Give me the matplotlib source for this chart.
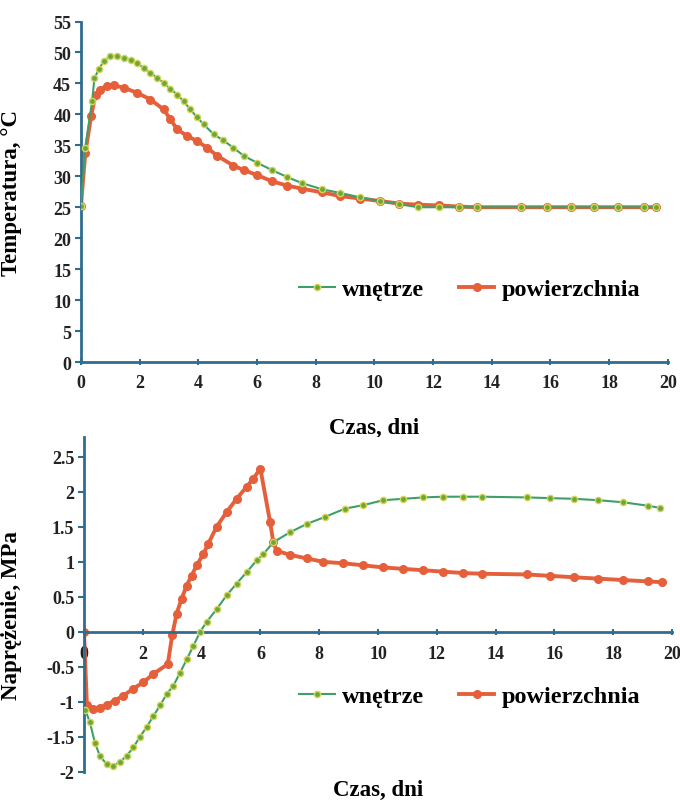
import matplotlib
matplotlib.use('Agg')
import matplotlib.pyplot as plt

# Temperature chart (top)
t_temp_wn = [0, 0.15, 0.38, 0.46, 0.61, 0.78, 1.0, 1.23, 1.46, 1.69, 1.91, 2.14, 2.37, 2.6, 2.82,
             3.05, 3.28, 3.5, 3.73, 3.96, 4.18, 4.52, 4.85, 5.2, 5.55, 6.0, 6.51, 7.02, 7.53, 8.22,
             8.84, 9.52, 10.2, 10.83, 11.5, 12.2, 12.9, 13.5, 15.0, 15.9, 16.7, 17.5, 18.3, 19.2, 19.6]
temp_wn = [25.2, 34.6, 42.1, 45.8, 47.3, 48.6, 49.4, 49.5, 49.1, 48.8, 48.3, 47.5, 46.7, 45.9, 45.1,
           44.1, 43.2, 42.1, 40.8, 39.5, 38.4, 36.8, 35.8, 34.6, 33.3, 32.2, 31.0, 29.9, 28.9, 27.9,
           27.3, 26.6, 26.0, 25.5, 25.0, 25.0, 25.0, 25.0, 25.0, 25.0, 25.0, 25.0, 25.0, 25.0, 25.0]

t_temp_pow = [0, 0.15, 0.35, 0.5, 0.66, 0.89, 1.12, 1.46, 1.91, 2.37, 2.82, 3.05, 3.28, 3.62, 3.96,
              4.3, 4.65, 5.2, 5.55, 6.0, 6.51, 7.02, 7.53, 8.22, 8.84, 9.52, 10.2, 10.83, 11.5, 12.2,
              12.9, 13.5, 15.0, 15.9, 16.7, 17.5, 18.3, 19.2, 19.6]
temp_pow = [25.2, 33.8, 39.8, 43.2, 44.0, 44.6, 44.7, 44.3, 43.5, 42.4, 40.8, 39.2, 37.6, 36.5, 35.7,
            34.6, 33.3, 31.7, 31.0, 30.2, 29.2, 28.5, 28.0, 27.4, 26.8, 26.4, 26.0, 25.6, 25.4, 25.3,
            25.1, 25.0, 25.0, 25.0, 25.0, 25.0, 25.0, 25.0, 25.0]

# Stress chart (bottom)
t_nap_wn = [0.05, 0.2, 0.37, 0.54, 0.77, 1.0, 1.22, 1.45, 1.68, 1.9, 2.13, 2.36, 2.59, 2.81, 3.04,
            3.27, 3.5, 3.72, 3.95, 4.17, 4.52, 4.85, 5.19, 5.53, 5.87, 6.1, 6.44, 7.0, 7.57, 8.19,
            8.88, 9.5, 10.18, 10.86, 11.54, 12.22, 12.9, 13.53, 15.06, 15.85, 16.67, 17.5, 18.35, 19.2, 19.6]
nap_wn = [-1.12, -1.29, -1.58, -1.77, -1.89, -1.91, -1.86, -1.77, -1.65, -1.5, -1.36, -1.2, -1.05, -0.89, -0.77,
          -0.58, -0.39, -0.2, 0.0, 0.14, 0.33, 0.52, 0.69, 0.85, 1.02, 1.11, 1.28, 1.42, 1.54, 1.64,
          1.76, 1.81, 1.88, 1.9, 1.92, 1.93, 1.93, 1.93, 1.92, 1.91, 1.9, 1.88, 1.85, 1.8, 1.77]

t_nap_pow = [0, 0.1, 0.32, 0.54, 0.77, 1.05, 1.34, 1.68, 2.02, 2.36, 2.85, 3.0, 3.15, 3.32, 3.49,
             3.66, 3.83, 4.06, 4.23, 4.51, 4.85, 5.19, 5.53, 5.76, 6.0, 6.33, 6.44, 6.55, 7.0, 7.57,
             8.14, 8.82, 9.5, 10.18, 10.86, 11.54, 12.22, 12.9, 13.53, 15.06, 15.85, 16.67, 17.5, 18.35, 19.2, 19.65]
nap_pow = [0, -1.05, -1.1, -1.08, -1.04, -0.98, -0.91, -0.81, -0.72, -0.6, -0.46, -0.05, 0.26, 0.47, 0.66,
           0.8, 0.95, 1.11, 1.26, 1.5, 1.71, 1.9, 2.07, 2.19, 2.33, 1.57, 1.28, 1.16, 1.1, 1.05,
           1.0, 0.98, 0.95, 0.92, 0.9, 0.88, 0.86, 0.84, 0.83, 0.82, 0.8, 0.78, 0.76, 0.74, 0.72, 0.71]

plt.rcParams['font.family'] = ['Liberation Serif', 'DejaVu Serif']
plt.rcParams['font.weight'] = 'bold'

green = '#3f9f68'
green_mk = '#6aa83a'
green_edge = '#d8d45a'
red = '#e5603a'
axis_col = '#2e6d8e'

fig = plt.figure(figsize=(6.8, 8.04), dpi=100)
ax1 = fig.add_axes([0.119, 0.5485, 0.863, 0.4235])
ax2 = fig.add_axes([0.1235, 0.0386, 0.8647, 0.4164])


def style(ax):
    for s in ['top', 'right']:
        ax.spines[s].set_visible(False)
    for s in ['left', 'bottom']:
        ax.spines[s].set_color(axis_col)
        ax.spines[s].set_linewidth(2)
    ax.tick_params(axis='both', colors=axis_col, labelcolor='#222222', labelsize=13, width=1.5)
    ax.tick_params(axis='y', direction='out', length=4, pad=3)
    ax.tick_params(axis='x', direction='inout', length=5)
    for lab in ax.get_xticklabels() + ax.get_yticklabels():
        lab.set_fontweight('bold')


leg_kw = dict(loc='center', bbox_transform=fig.transFigure, ncol=2, frameon=False,
              handlelength=1.45, handletextpad=0.3, columnspacing=1.45,
              prop={'weight': 'bold', 'size': 17.5})

# top chart
ax1.plot(t_temp_wn, temp_wn, color=green, lw=1.5, marker='o', ms=4.5,
         mfc=green_mk, mec=green_edge, mew=1.0, label='wnętrze', zorder=3)
ax1.plot(t_temp_pow, temp_pow, color=red, lw=2.8, marker='o', ms=5.5,
         mfc=red, mec=red, label='powierzchnia', zorder=2)
ax1.set_xlim(0, 20)
ax1.set_ylim(0, 55)
ax1.set_xticks(range(0, 21, 2))
ax1.set_yticks(range(0, 56, 5))
style(ax1)
ax1.tick_params(axis='x', pad=6)
ax1.set_xlabel('Czas, dni', fontsize=16.5, fontweight='bold')
ax1.xaxis.set_label_coords(0.5, -0.16)
ax1.set_ylabel('Temperatura, °C', fontsize=16.5, fontweight='bold')
ax1.yaxis.set_label_coords(-0.1, 0.5)
ax1.legend(bbox_to_anchor=(0.691, 0.639), **leg_kw)

# bottom chart
ax2.plot(t_nap_wn, nap_wn, color=green, lw=1.5, marker='o', ms=4.5,
         mfc=green_mk, mec=green_edge, mew=1.0, label='wnętrze', zorder=3)
ax2.plot(t_nap_pow, nap_pow, color=red, lw=2.8, marker='o', ms=5.5,
         mfc=red, mec=red, label='powierzchnia', zorder=2)
ax2.set_xlim(0, 20)
ax2.set_ylim(-2, 2.78)
ax2.set_xticks(range(0, 21, 2))
ax2.set_yticks([-2, -1.5, -1, -0.5, 0, 0.5, 1, 1.5, 2, 2.5])
ax2.set_yticklabels(['-2', '-1.5', '-1', '-0.5', '0', '0.5', '1', '1.5', '2', '2.5'])
style(ax2)
ax2.spines['bottom'].set_position(('data', 0))
ax2.tick_params(axis='x', pad=7)
ax2.set_xlabel('Czas, dni', fontsize=16.5, fontweight='bold')
ax2.xaxis.set_label_coords(0.5, -0.02)
ax2.set_ylabel('Naprężenie, MPa', fontsize=16.5, fontweight='bold')
ax2.yaxis.set_label_coords(-0.105, 0.47)
ax2.legend(bbox_to_anchor=(0.691, 0.133), **leg_kw)

fig.savefig('out.png', dpi=100)
